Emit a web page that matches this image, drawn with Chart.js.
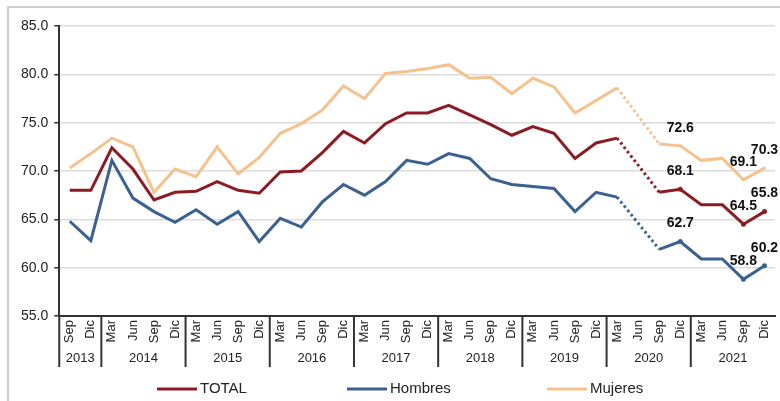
<!DOCTYPE html>
<html>
<head>
<meta charset="utf-8">
<script src="https://cdn.jsdelivr.net/npm/chart.js@4"></script>
<style>
  html, body { margin: 0; padding: 0; background: #fff; }
  #wrap { width: 780px; height: 401px; }
</style>
</head>
<body>
<div id="wrap"><canvas id="chart" width="780" height="401"></canvas></div>
<script>
const months = ["Sep", "Dic",
  "Mar", "Jun", "Sep", "Dic", "Mar", "Jun", "Sep", "Dic",
  "Mar", "Jun", "Sep", "Dic", "Mar", "Jun", "Sep", "Dic",
  "Mar", "Jun", "Sep", "Dic", "Mar", "Jun", "Sep", "Dic",
  "Mar", "Jun", "Sep", "Dic", "Mar", "Jun", "Sep", "Dic"];
const years = ["2013", "2014", "2015", "2016", "2017", "2018", "2019", "2020", "2021"];
const yearSpans = [2, 4, 4, 4, 4, 4, 4, 4, 4];

const total = [68.0, 68.0, 72.4, 70.2, 67.0, 67.8, 67.9, 68.9, 68.0, 67.7,
  69.9, 70.0, 71.9, 74.1, 72.9, 74.9, 76.0, 76.0, 76.8, 75.8, 74.8, 73.7,
  74.6, 73.9, 71.3, 72.9, 73.4, null, 67.8, 68.1, 66.5, 66.5, 64.5, 65.8];
const hombres = [64.8, 62.8, 71.1, 67.2, 65.8, 64.7, 66.0, 64.5, 65.8, 62.7,
  65.1, 64.2, 66.8, 68.6, 67.5, 68.9, 71.1, 70.7, 71.8, 71.3, 69.2, 68.6,
  68.4, 68.2, 65.8, 67.8, 67.3, null, 61.9, 62.7, 60.9, 60.9, 58.8, 60.2];
const mujeres = [70.3, 71.8, 73.4, 72.5, 67.8, 70.2, 69.4, 72.5, 69.7, 71.4,
  73.9, 74.9, 76.3, 78.8, 77.5, 80.1, 80.3, 80.6, 81.0, 79.6, 79.7, 78.0,
  79.6, 78.7, 76.0, 77.3, 78.6, null, 72.8, 72.6, 71.1, 71.3, 69.1, 70.3];
const labelled = [29, 32, 33];

const FONT = "'Liberation Sans', Arial, sans-serif";

function makeSet(label, data, color, dot) {
  return {
    label: label,
    data: data,
    borderColor: color,
    backgroundColor: color,
    borderWidth: 3,
    tension: 0,
    spanGaps: true,
    pointRadius: data.map((v, i) => (labelled.includes(i) ? dot : 0)),
    pointBorderWidth: 0,
    pointHoverRadius: 0,
    segment: {
      borderDash: (c) => (c.p0.skip || c.p1.skip ? [2.5, 3] : undefined),
    },
  };
}

const extras = {
  id: "extras",
  beforeDraw(chart) {
    const c = chart.ctx;
    c.save();
    c.fillStyle = "#fff";
    c.fillRect(0, 0, chart.width, chart.height);
    c.strokeStyle = "#cfcfcf";
    c.lineWidth = 2;
    c.beginPath();
    c.moveTo(8, chart.height);
    c.lineTo(8, 7);
    c.lineTo(chart.width, 7);
    c.stroke();
    c.restore();
  },
  afterDraw(chart) {
    const c = chart.ctx;
    const x = chart.scales.x;
    const area = chart.chartArea;
    c.save();

    // year separators and labels
    c.strokeStyle = "#333";
    c.lineWidth = 2;
    c.fillStyle = "#222";
    c.font = "13px " + FONT;
    c.textAlign = "center";
    c.textBaseline = "middle";
    let start = 0;
    const half = (x.getPixelForValue(1) - x.getPixelForValue(0)) / 2;
    yearSpans.forEach((n, k) => {
      const left = x.getPixelForValue(start) - half;
      const right = x.getPixelForValue(start + n - 1) + half;
      c.beginPath();
      c.moveTo(left, area.bottom);
      c.lineTo(left, area.bottom + 51);
      c.stroke();
      c.fillText(years[k], (left + right) / 2, area.bottom + 42);
      start += n;
    });

    // value labels
    c.font = "bold 14px " + FONT;
    c.fillStyle = "#111";
    chart.data.datasets.forEach((ds, d) => {
      const meta = chart.getDatasetMeta(d);
      labelled.forEach((i) => {
        const p = meta.data[i];
        c.fillText(ds.data[i].toFixed(1), p.x, p.y - 18);
      });
    });

    // legend
    const legendX = [157, 347, 547];
    const y = 389;
    c.font = "15px " + FONT;
    c.textAlign = "left";
    c.fillStyle = "#222";
    chart.data.datasets.forEach((ds, d) => {
      c.strokeStyle = ds.borderColor;
      c.lineWidth = 3;
      c.beginPath();
      c.moveTo(legendX[d], y);
      c.lineTo(legendX[d] + 40, y);
      c.stroke();
      c.fillText(ds.label, legendX[d] + 43, y);
    });
    c.restore();
  },
};

const ctx = document.getElementById("chart").getContext("2d");

const chart = new Chart(ctx, {
  type: "line",
  data: {
    labels: months,
    datasets: [
      makeSet("TOTAL", total, "#8c1c24", 2.5),
      makeSet("Hombres", hombres, "#3a6190", 2.5),
      makeSet("Mujeres", mujeres, "#f5c28e", 1.5),
    ],
  },
  options: {
    responsive: false,
    animation: false,
    layout: { padding: { left: 15, top: 26, right: 5, bottom: 29 } },
    plugins: {
      legend: { display: false },
      tooltip: { enabled: false },
    },
    scales: {
      x: {
        offset: true,
        grid: { display: false, drawTicks: false },
        border: { display: true, color: "#333", width: 2 },
        ticks: {
          minRotation: 90,
          maxRotation: 90,
          autoSkip: false,
          padding: 4,
          color: "#222",
          font: { family: FONT, size: 13 },
        },
        afterFit: (scale) => {
          scale.height = 56;
          scale.paddingRight = 0;
          scale.paddingLeft = 0;
        },
      },
      y: {
        min: 55,
        max: 85,
        ticks: {
          stepSize: 5,
          padding: 6,
          color: "#222",
          font: { family: FONT, size: 14 },
          callback: (v) => v.toFixed(1),
        },
        grid: { color: "#dcdcdc", lineWidth: 1.5, tickLength: 5, tickColor: "#333" },
        border: { display: true, color: "#333", width: 2 },
      },
    },
  },
  plugins: [extras],
});
</script>
</body>
</html>
